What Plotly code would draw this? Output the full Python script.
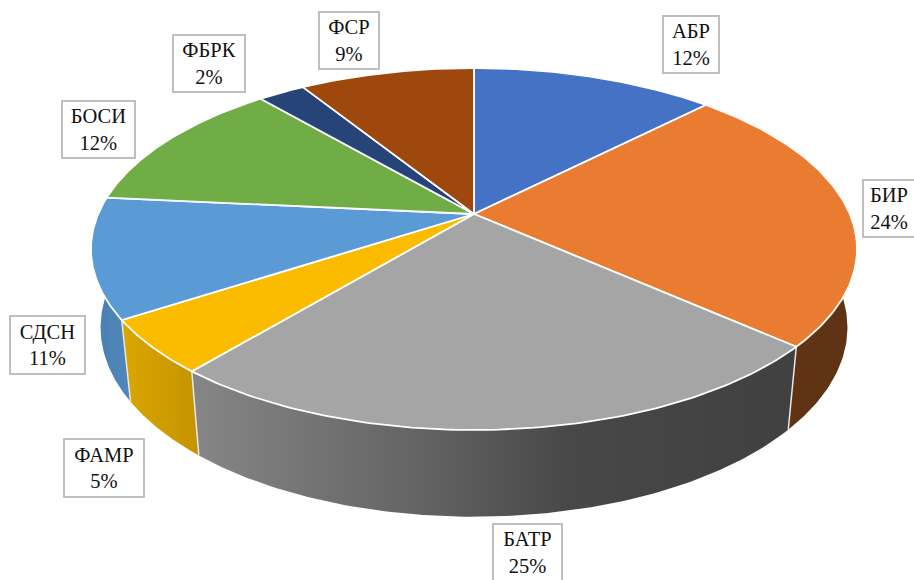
import numpy as np
import plotly.graph_objects as go

# clockwise from 12 o'clock, values
names = ["АБР", "БИР", "БАТР", "ФАМР", "СДСН", "БОСИ", "ФБРК", "ФСР"]
values = [12.4, 24.2, 24.5, 4.8, 10.7, 12.2, 2.4, 8.9]
pct_labels = ["12%", "24%", "25%", "5%", "11%", "12%", "2%", "9%"]
top_colors = ["#4472c4", "#e97c30", "#a5a5a5", "#fbbc00", "#5b9bd5", "#70ad47", "#264478", "#9e480e"]

# side walls (front slices only), left to right shading
wall_order = ["БИР", "СДСН", "ФАМР", "БАТР"]
wall_colors = {
    "БИР": [[0, "#603314"], [1, "#603314"]],
    "БАТР": [[0, "#868686"], [0.35, "#666666"], [0.62, "#484848"], [1, "#404040"]],
    "ФАМР": [[0, "#dba600"], [1, "#c49400"]],
    "СДСН": [[0, "#4a7eb0"], [1, "#5088bb"]],
}

# label box centres and sizes in pixels
label_boxes = {
    "АБР": (691, 44.5, 56, 57),
    "БИР": (889, 208.5, 52, 57),
    "БАТР": (527.5, 552.5, 69, 57),
    "ФАМР": (104, 468, 80, 58),
    "СДСН": (47.5, 344.5, 75, 58),
    "БОСИ": (98.5, 129.5, 73, 57),
    "ФБРК": (209, 63.5, 72, 57),
    "ФСР": (349, 40.5, 60, 57),
}

# perspective disc
cx, cy = 474, 214
a, b, k = 375.8, 174.2, 0.1934


def project(t, bottom=False):
    x = a * np.sin(t) / (1 + k * np.cos(t))
    y = -b * np.cos(t) / (1 + k * np.cos(t))
    px = cx + x
    py = cy + y
    if bottom:
        px = cx + 0.975 * x
        py = 1.046 * py + 67
    return px, py


total = sum(values)
edges = np.cumsum([0] + values) / total * 2 * np.pi
slices = {n: (edges[i], edges[i + 1]) for i, n in enumerate(names)}

fig = go.Figure()

# walls first, then the lid on top
for n in wall_order:
    t0, t1 = slices[n]
    ts = np.linspace(t0, t1, 120)
    xt, yt = project(ts)
    xb, yb = project(ts[::-1], bottom=True)
    fig.add_trace(go.Scatter(
        x=np.r_[xt, xb], y=np.r_[yt, yb],
        mode="lines", line=dict(width=0), fill="toself",
        fillgradient=dict(type="horizontal", colorscale=wall_colors[n]),
        hoverinfo="skip", showlegend=False,
    ))

# thin white seams between the walls
for n in ["БИР", "БАТР", "ФАМР"]:
    t1 = slices[n][1]
    xt, yt = project(t1)
    xb, yb = project(t1, bottom=True)
    fig.add_trace(go.Scatter(
        x=[xt, xb], y=[yt, yb], mode="lines",
        line=dict(color="#e8e8e8", width=1.5),
        hoverinfo="skip", showlegend=False,
    ))

for i, n in enumerate(names):
    t0, t1 = slices[n]
    ts = np.linspace(t0, t1, 100)
    xt, yt = project(ts)
    fig.add_trace(go.Scatter(
        x=np.r_[cx, xt, cx], y=np.r_[cy, yt, cy],
        mode="lines", line=dict(color="white", width=1.8), fill="toself",
        fillcolor=top_colors[i], name=n,
        hovertemplate=n + " " + pct_labels[i] + "<extra></extra>", showlegend=False,
    ))

for i, n in enumerate(names):
    bx, by, bw, bh = label_boxes[n]
    fig.add_annotation(
        x=bx, y=by, xref="x", yref="y",
        text=n + "<br>" + pct_labels[i],
        showarrow=False, align="center", xanchor="center", yanchor="middle",
        width=bw - 2, height=bh - 2, borderpad=0,
        bgcolor="white", bordercolor="#bfbfbf", borderwidth=2,
        font=dict(family="Liberation Serif", size=20.5, color="#111111"),
    )

fig.update_layout(
    width=914, height=580,
    margin=dict(l=0, r=0, t=0, b=0),
    paper_bgcolor="white", plot_bgcolor="white",
    showlegend=False,
)
fig.update_xaxes(range=[0, 914], visible=False, fixedrange=True)
fig.update_yaxes(range=[580, 0], visible=False, fixedrange=True)

fig.write_html("out.html", config={"displayModeBar": False},
               post_script="document.body.style.margin='0';document.body.style.overflow='hidden';")
